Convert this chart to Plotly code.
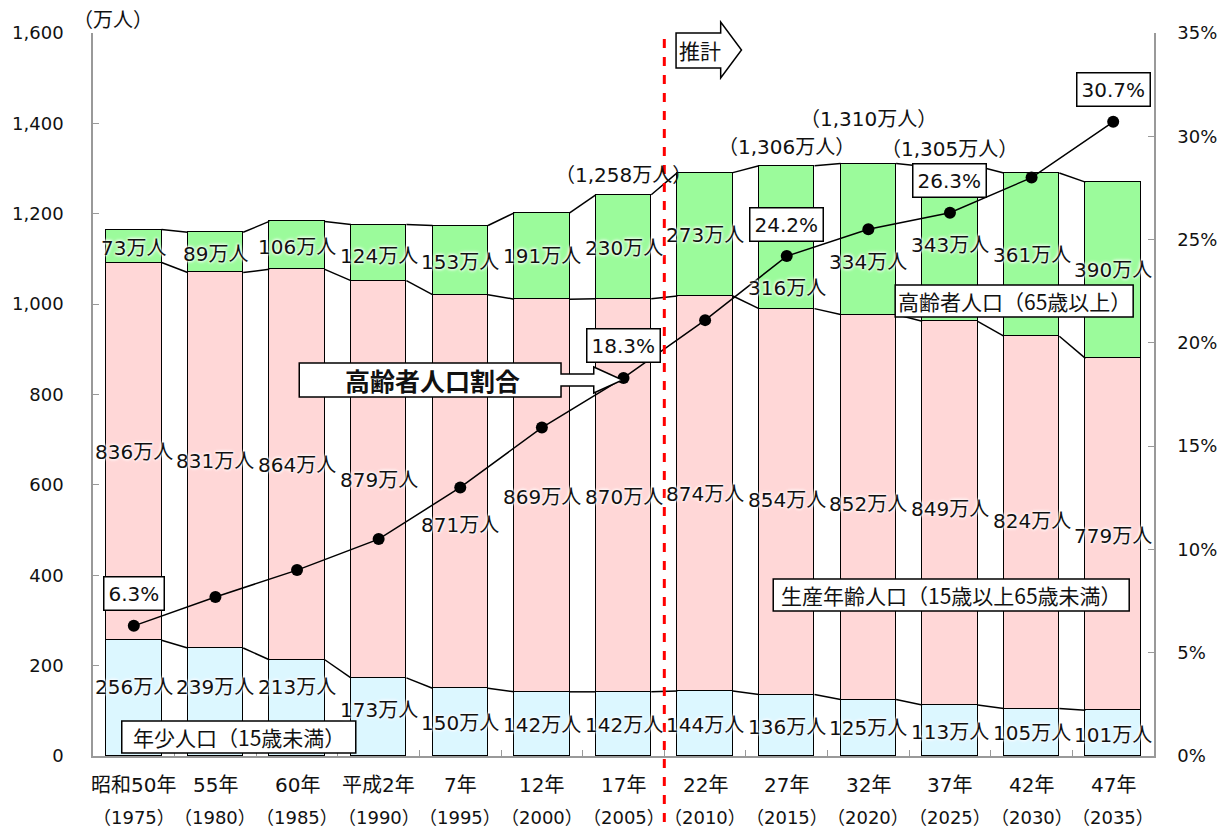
import plotly.graph_objects as go

# ---------------- data ----------------
year_jp = ["昭和50年", "55年", "60年", "平成2年", "7年", "12年", "17年",
           "22年", "27年", "32年", "37年", "42年", "47年"]
year_ad = ["（1975）", "（1980）", "（1985）", "（1990）", "（1995）", "（2000）", "（2005）",
           "（2010）", "（2015）", "（2020）", "（2025）", "（2030）", "（2035）"]
young = [256, 239, 213, 173, 150, 142, 142, 144, 136, 125, 113, 105, 101]
working = [836, 831, 864, 879, 871, 869, 870, 874, 854, 852, 849, 824, 779]
elderly = [73, 89, 106, 124, 153, 191, 230, 273, 316, 334, 343, 361, 390]
ratio = [6.3, 7.7, 9.0, 10.5, 13.0, 15.9, 18.3, 21.1, 24.2, 25.5, 26.3, 28.0, 30.7]
total_idx = [6, 8, 9, 10]
total_text = ["1,258", "1,306", "1,310", "1,305"]
ratio_label_idx = [0, 6, 8, 10, 12]

# label placement (data units on left axis)
young_lab_y = [153, 153, 153, 102, 73, 69, 69, 69, 64, 62, 53, 51, 46]
working_lab_y = [673, 653, 644, 611, 511, 573, 573, 580, 566, 558, 547, 520, 487]
elderly_lab_y = [1124, 1111, 1126, 1106, 1093, 1106, 1124, 1153, 1036, 1093, 1131, 1109, 1075]
total_lab_y = [1286, 1348, 1410, 1343]

# ---------------- layout constants ----------------
W, H = 1229, 832
L, R, T, B = 93, 1163, 33, 756
BW = 0.68
FONT = "DejaVu Sans, Noto Sans CJK JP"
CJK = "Noto Sans CJK JP"
C_Y, C_W, C_E = "#DCF7FF", "#FFD7D7", "#9BFB9B"
TXT = "#111"


def px(x):
    return (x - L) / (R - L)


def py(y):
    return (B - y) / (B - T)


def path(pts):
    return "M " + " L ".join(f"{px(a):.5f},{py(b):.5f}" for a, b in pts) + " Z"


n = len(young)
xs = list(range(n))
fig = go.Figure()

for vals, col in [(young, C_Y), (working, C_W), (elderly, C_E)]:
    fig.add_trace(go.Bar(x=xs, y=vals, width=BW, marker=dict(color=col, line=dict(color="black", width=1.5)),
                         hoverinfo="skip", showlegend=False))

# series connector lines
cum1 = young
cum2 = [a + b for a, b in zip(young, working)]
cum3 = [a + b + c for a, b, c in zip(young, working, elderly)]
for cum in (cum1, cum2, cum3):
    cx, cy = [], []
    for i in range(n - 1):
        cx += [i + BW / 2, i + 1 - BW / 2, None]
        cy += [cum[i], cum[i + 1], None]
    fig.add_trace(go.Scatter(x=cx, y=cy, mode="lines", line=dict(color="black", width=1.5),
                             hoverinfo="skip", showlegend=False))

fig.add_trace(go.Scatter(x=xs, y=ratio, yaxis="y2", mode="lines+markers",
                         line=dict(color="black", width=1.5),
                         marker=dict(color="black", size=12), showlegend=False))

ann = []


def A(**kw):
    d = dict(showarrow=False, xanchor="center", yanchor="middle")
    d.update(kw)
    ann.append(d)


glow = "white 0px 0px 3px, white 0px 0px 3px, white 0px 0px 4px"
lab_font = dict(family=FONT, size=20, color=TXT, shadow=glow)
for i in range(n):
    A(x=i, y=young_lab_y[i], text=f"{young[i]}万人", font=lab_font)
    A(x=i, y=working_lab_y[i], text=f"{working[i]}万人", font=lab_font)
    A(x=i, y=elderly_lab_y[i], text=f"{elderly[i]}万人", font=lab_font)
    A(x=i, y=py(785), xref="x", yref="paper", text=year_jp[i], font=dict(family=FONT, size=20, color=TXT))
    A(x=i, y=py(817), xref="x", yref="paper", text=year_ad[i], font=dict(family=FONT, size=18, color=TXT))
for k, i in enumerate(total_idx):
    A(x=i, y=total_lab_y[k], text=f"（{total_text[k]}万人）", font=dict(family=FONT, size=20, color=TXT))
for i in ratio_label_idx:
    A(x=i, y=ratio[i], yref="y2", yshift=32, text=f"{ratio[i]:.1f}%",
      font=dict(family=FONT, size=20, color=TXT), bgcolor="white",
      bordercolor="black", borderwidth=1.5, borderpad=4)

shapes = []
# 推計 boundary
shapes.append(dict(type="line", xref="x", yref="paper", x0=6.5, x1=6.5, y0=py(822), y1=py(37),
                   line=dict(color="#FF0000", width=3, dash="dash")))
# text boxes
boxes = [((122, 721, 358, 753), "年少人口（15歳未満）"),
         ((779, 579, 1138, 611), "生産年齢人口（15歳以上65歳未満）"),
         ((902, 285, 1142, 317), "高齢者人口（65歳以上）")]
for (x0, y0, x1, y1), t in boxes:
    shapes.append(dict(type="rect", xref="paper", yref="paper", x0=px(x0), x1=px(x1), y0=py(y1), y1=py(y0),
                       fillcolor="white", line=dict(color="black", width=1.5)))
    A(x=px((x0 + x1) / 2), y=py((y0 + y1) / 2), xref="paper", yref="paper", text=t,
      font=dict(family=CJK, size=21, color=TXT))
# block arrows
shapes.append(dict(type="path", xref="paper", yref="paper",
                   path=path([(301, 363), (565, 363), (565, 374), (598, 374), (598, 367), (627, 380),
                              (598, 393), (598, 386), (565, 386), (565, 397), (301, 397)]),
                   fillcolor="white", line=dict(color="black", width=1.5)))
A(x=px(435), y=py(380), xref="paper", yref="paper", text="<b>高齢者人口割合</b>",
  font=dict(family=CJK, size=25, color=TXT))
shapes.append(dict(type="path", xref="paper", yref="paper",
                   path=path([(681, 33), (726, 33), (726, 22), (747, 50), (726, 78), (726, 68), (681, 68)]),
                   fillcolor="white", line=dict(color="black", width=1.5)))
A(x=px(705), y=py(50), xref="paper", yref="paper", text="推計",
  font=dict(family=CJK, size=21, color=TXT))
A(x=px(113), y=py(18), xref="paper", yref="paper", text="（万人）",
  font=dict(family=CJK, size=20, color=TXT))

fig.update_layout(
    width=W, height=H, margin=dict(l=L, r=W - R, t=T, b=H - B),
    paper_bgcolor="white", plot_bgcolor="white", barmode="stack", bargap=0,
    font=dict(family=FONT, size=18, color=TXT),
    xaxis=dict(range=[-0.5, n - 0.5], tickvals=[i + 0.5 for i in range(n - 1)], showticklabels=False,
               ticks="inside", ticklen=6, tickcolor="#999", showline=True, linecolor="#999", linewidth=1.5,
               showgrid=False, zeroline=False, fixedrange=True),
    yaxis=dict(range=[0, 1600], dtick=200, tickformat=",", ticks="inside", ticklen=6, tickcolor="#999",
               showline=True, linecolor="#999", linewidth=1.5, showgrid=False, zeroline=False,
               ticklabelstandoff=24, tickfont=dict(size=18, color=TXT)),
    yaxis2=dict(range=[0, 35], dtick=5, ticksuffix="%", overlaying="y", side="right", ticks="inside",
                ticklen=6, tickcolor="#999", showline=True, linecolor="#999", linewidth=1.5,
                showgrid=False, zeroline=False, ticklabelstandoff=18, tickfont=dict(size=18, color=TXT)),
    shapes=shapes, annotations=ann, showlegend=False,
)

fig.write_html("out.html")
